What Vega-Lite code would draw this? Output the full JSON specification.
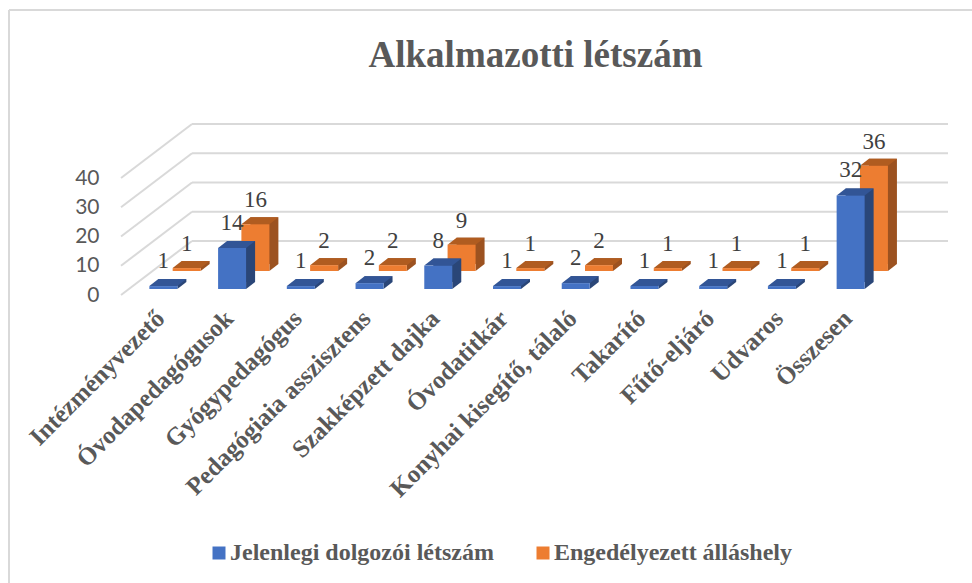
{"$schema":"https://vega.github.io/schema/vega-lite/v6.json","autosize":"none","padding":{"left":129,"top":172,"right":87,"bottom":294},"width":756,"height":117,"background":"white","title":{"text":"Alkalmazotti létszám","font":"Liberation Serif","fontSize":37,"fontWeight":"bold","color":"#595959","anchor":"middle","frame":"group","dx":28.5,"offset":-66},"config":{"view":{"stroke":null}},"datasets":{"d":[{"k":"Intézményvezető","s":"Jelenlegi dolgozói létszám","v":1},{"k":"Óvodapedagógusok","s":"Jelenlegi dolgozói létszám","v":14},{"k":"Gyógypedagógus","s":"Jelenlegi dolgozói létszám","v":1},{"k":"Pedagógiaia asszisztens","s":"Jelenlegi dolgozói létszám","v":2},{"k":"Szakképzett dajka","s":"Jelenlegi dolgozói létszám","v":8},{"k":"Óvodatitkár","s":"Jelenlegi dolgozói létszám","v":1},{"k":"Konyhai kisegítő, tálaló","s":"Jelenlegi dolgozói létszám","v":2},{"k":"Takarító","s":"Jelenlegi dolgozói létszám","v":1},{"k":"Fűtő-eljáró","s":"Jelenlegi dolgozói létszám","v":1},{"k":"Udvaros","s":"Jelenlegi dolgozói létszám","v":1},{"k":"Összesen","s":"Jelenlegi dolgozói létszám","v":32},{"k":"Intézményvezető","s":"Engedélyezett álláshely","v":1},{"k":"Óvodapedagógusok","s":"Engedélyezett álláshely","v":16},{"k":"Gyógypedagógus","s":"Engedélyezett álláshely","v":2},{"k":"Pedagógiaia asszisztens","s":"Engedélyezett álláshely","v":2},{"k":"Szakképzett dajka","s":"Engedélyezett álláshely","v":9},{"k":"Óvodatitkár","s":"Engedélyezett álláshely","v":1},{"k":"Konyhai kisegítő, tálaló","s":"Engedélyezett álláshely","v":2},{"k":"Takarító","s":"Engedélyezett álláshely","v":1},{"k":"Fűtő-eljáró","s":"Engedélyezett álláshely","v":1},{"k":"Udvaros","s":"Engedélyezett álláshely","v":1},{"k":"Összesen","s":"Engedélyezett álláshely","v":36}],"g":[{"t":0},{"t":10},{"t":20},{"t":30},{"t":40}],"f":[{"t":40,"b":0}]},"encoding":{"x":{"field":"k","type":"nominal","title":null,"scale":{"domain":["Intézményvezető","Óvodapedagógusok","Gyógypedagógus","Pedagógiaia asszisztens","Szakképzett dajka","Óvodatitkár","Konyhai kisegítő, tálaló","Takarító","Fűtő-eljáró","Udvaros","Összesen"],"paddingInner":0,"paddingOuter":0},"axis":{"labelAngle":-45,"labelAlign":"right","labelBaseline":"middle","labelFont":"Liberation Serif","labelFontSize":25,"labelFontWeight":"bold","labelColor":"#595959","labelPadding":25,"labelOffset":-3,"labelLimit":400,"labelOverlap":false,"domain":false,"ticks":false,"grid":false}},"y":{"field":"v","type":"quantitative","title":null,"stack":null,"scale":{"domain":[0,40],"nice":false},"axis":{"values":[0,10,20,30,40],"labelFont":"Lato","labelFontSize":21,"labelColor":"#595959","labelPadding":30,"labelOffset":6,"domain":false,"ticks":false,"grid":false}}},"layer":[{"data":{"name":"g"},"mark":{"type":"rule","color":"#d9d9d9","strokeWidth":2,"xOffset":28.65,"x2Offset":784.65,"yOffset":-48,"y2Offset":-48},"encoding":{"x":{"datum":"Intézményvezető"},"x2":{"datum":"Intézményvezető"},"y":{"field":"t","type":"quantitative"},"y2":{"field":"t"}}},{"data":{"name":"g"},"mark":{"type":"rule","color":"#d9d9d9","strokeWidth":2,"xOffset":-42.35,"x2Offset":28.65,"yOffset":6,"y2Offset":-48},"encoding":{"x":{"datum":"Intézményvezető"},"x2":{"datum":"Intézményvezető"},"y":{"field":"t","type":"quantitative"},"y2":{"field":"t"}}},{"data":{"name":"d"},"transform":[{"filter":"datum.s==='Engedélyezett álláshely'"}],"layer":[{"mark":{"type":"bar","size":28,"color":"#9c5220","xOffset":32.3,"yOffset":-25,"y2Offset":-25},"encoding":{"y2":{"datum":0}}},{"mark":{"type":"point","filled":true,"opacity":1,"size":4,"strokeWidth":0,"color":"#9c5220","shape":"M14,0L14,-7L23,-7Z","xOffset":23.3,"yOffset":-18},"encoding":{"y":{"datum":0}}},{"mark":{"type":"point","filled":true,"opacity":1,"size":4,"strokeWidth":0,"color":"#b05c20","shape":"M-14,0L14,0L23,-7L-5,-7Z","xOffset":23.3,"yOffset":-18}},{"mark":{"type":"bar","size":28,"xOffset":23.3,"yOffset":-18,"y2Offset":-18},"encoding":{"y2":{"datum":0},"color":{"field":"s","type":"nominal","title":null,"scale":{"domain":["Jelenlegi dolgozói létszám","Engedélyezett álláshely"],"range":["#4472c4","#ed7d31"]},"legend":{"orient":"none","legendX":78,"legendY":369,"direction":"horizontal","symbolType":"square","symbolSize":169,"symbolStrokeWidth":0,"labelFont":"Liberation Serif","labelFontSize":24,"labelFontWeight":"bold","labelColor":"#595959","labelLimit":400,"columnPadding":37,"labelOffset":-1}}}}]},{"data":{"name":"d"},"transform":[{"filter":"datum.s==='Jelenlegi dolgozói létszám'"}],"layer":[{"mark":{"type":"bar","size":28,"color":"#2a4678","xOffset":9,"yOffset":-7,"y2Offset":-7},"encoding":{"y2":{"datum":0}}},{"mark":{"type":"point","filled":true,"opacity":1,"size":4,"strokeWidth":0,"color":"#2a4678","shape":"M14,0L14,-7L23,-7Z"},"encoding":{"y":{"datum":0}}},{"mark":{"type":"point","filled":true,"opacity":1,"size":4,"strokeWidth":0,"color":"#325596","shape":"M-14,0L14,0L23,-7L-5,-7Z"}},{"mark":{"type":"bar","size":28},"encoding":{"color":{"field":"s","type":"nominal","title":null}}}]},{"data":{"name":"d"},"transform":[{"filter":"datum.s==='Engedélyezett álláshely'"}],"mark":{"type":"text","font":"Liberation Serif","fontSize":23,"color":"#404040","baseline":"middle","xOffset":23.3,"yOffset":-42},"encoding":{"text":{"field":"v","type":"quantitative"}}},{"data":{"name":"d"},"transform":[{"filter":"datum.s==='Jelenlegi dolgozói létszám'"}],"mark":{"type":"text","font":"Liberation Serif","fontSize":23,"color":"#404040","baseline":"middle","yOffset":-25},"encoding":{"text":{"field":"v","type":"quantitative"}}},{"data":{"name":"f"},"mark":{"type":"rule","color":"#d9d9d9","strokeWidth":2,"xOffset":-154.35,"x2Offset":808.65,"yOffset":-162,"y2Offset":-162},"encoding":{"x":{"datum":"Intézményvezető"},"x2":{"datum":"Intézményvezető"},"y":{"field":"t","type":"quantitative"},"y2":{"field":"t"}}},{"data":{"name":"f"},"mark":{"type":"rule","color":"#d9d9d9","strokeWidth":2,"xOffset":-154.35,"x2Offset":-154.35,"yOffset":-162,"y2Offset":294},"encoding":{"x":{"datum":"Intézményvezető"},"x2":{"datum":"Intézményvezető"},"y":{"field":"t","type":"quantitative"},"y2":{"field":"b"}}}]}
